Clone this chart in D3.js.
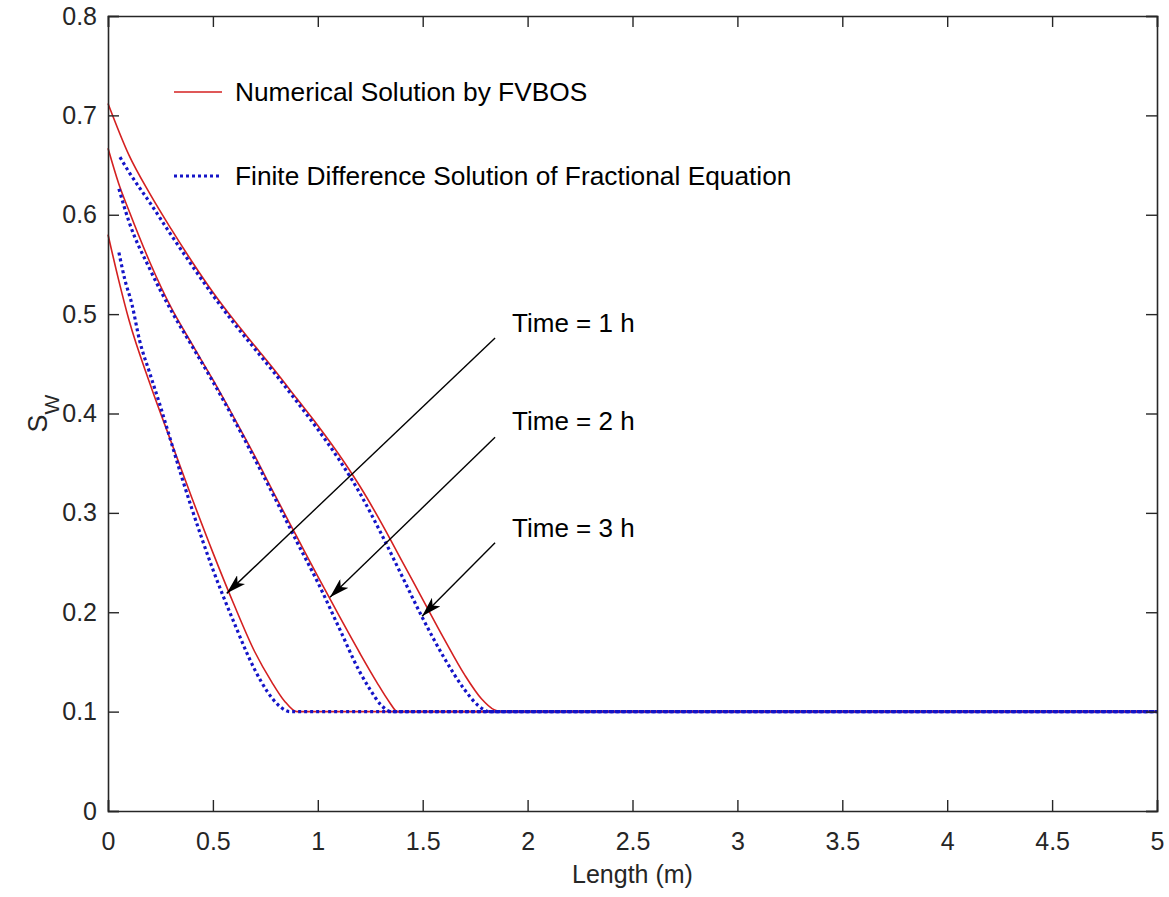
<!DOCTYPE html>
<html>
<head>
<meta charset="utf-8">
<script src="https://cdn.jsdelivr.net/npm/d3@7"></script>
<style>
  html, body { margin: 0; padding: 0; background: #fff; }
  svg text { font-family: "Liberation Sans", Arial, sans-serif; fill: #262626; }
</style>
</head>
<body>
<div id="chart"></div>
<script>
  // ── Data ──
  var X_TICKS = [0, 0.5, 1, 1.5, 2, 2.5, 3, 3.5, 4, 4.5, 5];
  var Y_TICKS = [0, 0.1, 0.2, 0.3, 0.4, 0.5, 0.6, 0.7, 0.8];

  // Numerical solution by FVBOS (red, solid)
  var fvbos1X = [0, 0.05, 0.1, 0.2, 0.3, 0.4, 0.5, 0.6, 0.7, 0.78, 0.84, 0.9, 5];
  var fvbos1Y = [0.58, 0.535, 0.494, 0.43, 0.372, 0.315, 0.26, 0.208, 0.16, 0.13, 0.111, 0.1, 0.1];
  var fvbos2X = [0, 0.05, 0.1, 0.2, 0.3, 0.4, 0.5, 0.6, 0.7, 0.8, 0.9, 1.0, 1.1, 1.2, 1.28, 1.34, 1.38, 5];
  var fvbos2Y = [0.667, 0.632, 0.604, 0.552, 0.507, 0.47, 0.434, 0.396, 0.357, 0.316, 0.276, 0.236, 0.197, 0.159, 0.13, 0.11, 0.1, 0.1];
  var fvbos3X = [0, 0.1, 0.2, 0.3, 0.4, 0.5, 0.6, 0.7, 0.8, 0.9, 1.0, 1.1, 1.2, 1.3, 1.4, 1.5, 1.6, 1.7, 1.78, 1.84, 1.88, 5];
  var fvbos3Y = [0.712, 0.66, 0.621, 0.586, 0.553, 0.522, 0.494, 0.468, 0.442, 0.415, 0.388, 0.359, 0.327, 0.291, 0.252, 0.213, 0.174, 0.137, 0.113, 0.102, 0.1, 0.1];

  // Finite difference solution of fractional equation (blue, dotted)
  var fd1X = [0.052, 0.08, 0.114, 0.15, 0.2, 0.25, 0.3, 0.35, 0.4, 0.5, 0.6, 0.7, 0.76, 0.82, 0.867, 5];
  var fd1Y = [0.562, 0.535, 0.51, 0.474, 0.44, 0.407, 0.372, 0.337, 0.304, 0.243, 0.19, 0.142, 0.12, 0.105, 0.1, 0.1];
  var fd2X = [0.052, 0.1, 0.2, 0.3, 0.4, 0.5, 0.6, 0.7, 0.8, 0.9, 1.0, 1.1, 1.2, 1.25, 1.3, 1.35, 5];
  var fd2Y = [0.626, 0.593, 0.545, 0.504, 0.468, 0.432, 0.394, 0.354, 0.313, 0.271, 0.23, 0.185, 0.14, 0.122, 0.107, 0.1, 0.1];
  var fd3X = [0.057, 0.1, 0.2, 0.3, 0.4, 0.5, 0.6, 0.7, 0.8, 0.9, 1.0, 1.1, 1.2, 1.3, 1.4, 1.5, 1.6, 1.7, 1.76, 1.82, 5];
  var fd3Y = [0.658, 0.643, 0.612, 0.58, 0.549, 0.519, 0.491, 0.465, 0.439, 0.412, 0.384, 0.354, 0.32, 0.28, 0.237, 0.194, 0.155, 0.122, 0.107, 0.1, 0.1];

  var timeLabels = ['Time = 1 h', 'Time = 2 h', 'Time = 3 h'];
  var labelPos = [[1.926, 0.482], [1.926, 0.383], [1.926, 0.276]];
  var arrowFrom = [[1.845, 0.476], [1.845, 0.376], [1.845, 0.270]];
  var arrowTo = [[0.566, 0.219], [1.058, 0.215], [1.497, 0.196]];

  // ── Layout ──
  var W = 1169, H = 897;
  var MARGIN = { top: 16, right: 12, bottom: 86, left: 108 };
  var plotW = W - MARGIN.left - MARGIN.right;
  var plotH = H - MARGIN.top - MARGIN.bottom;
  var RED = '#d42020';
  var BLUE = '#1414c8';
  var AXIS = '#262626';
  var FONT = 25;

  var svg = d3.select('#chart').append('svg')
    .attr('width', W).attr('height', H);

  var g = svg.append('g')
    .attr('transform', 'translate(' + MARGIN.left + ',' + MARGIN.top + ')');

  var x = d3.scaleLinear().domain([0, 5]).range([0, plotW]);
  var y = d3.scaleLinear().domain([0, 0.8]).range([plotH, 0]);

  function zip(xs, ys) {
    return xs.map(function (v, i) { return [v, ys[i]]; });
  }

  var line = d3.line()
    .x(function (d) { return x(d[0]); })
    .y(function (d) { return y(d[1]); })
    .curve(d3.curveMonotoneX);

  // ── Curves ──
  [zip(fvbos1X, fvbos1Y), zip(fvbos2X, fvbos2Y), zip(fvbos3X, fvbos3Y)].forEach(function (pts) {
    g.append('path').attr('d', line(pts))
      .attr('fill', 'none').attr('stroke', RED).attr('stroke-width', 1.6);
  });
  [zip(fd1X, fd1Y), zip(fd2X, fd2Y), zip(fd3X, fd3Y)].forEach(function (pts) {
    g.append('path').attr('d', line(pts))
      .attr('fill', 'none').attr('stroke', BLUE).attr('stroke-width', 3.2)
      .attr('stroke-dasharray', '3,3');
  });

  // ── Arrows ──
  var defs = svg.append('defs');
  defs.append('marker')
    .attr('id', 'arrow')
    .attr('viewBox', '0 0 20 12')
    .attr('refX', 20).attr('refY', 6)
    .attr('markerWidth', 20).attr('markerHeight', 12)
    .attr('markerUnits', 'userSpaceOnUse')
    .attr('orient', 'auto')
    .append('path')
    .attr('d', 'M0,0 L20,6 L0,12 L5,6 Z')
    .attr('fill', '#000');

  arrowFrom.forEach(function (p, i) {
    g.append('line')
      .attr('x1', x(p[0])).attr('y1', y(p[1]))
      .attr('x2', x(arrowTo[i][0])).attr('y2', y(arrowTo[i][1]))
      .attr('stroke', '#000').attr('stroke-width', 1.4)
      .attr('marker-end', 'url(#arrow)');
  });

  timeLabels.forEach(function (t, i) {
    g.append('text')
      .attr('x', x(labelPos[i][0])).attr('y', y(labelPos[i][1]))
      .attr('font-size', 26)
      .style('fill', '#000')
      .text(t);
  });

  // ── Legend ──
  var legend = [
    { label: 'Numerical Solution by FVBOS', color: RED, width: 1.6, dash: null, y: 92 },
    { label: 'Finite Difference Solution of Fractional Equation', color: BLUE, width: 3.2, dash: '3,3', y: 176 }
  ];
  legend.forEach(function (d) {
    svg.append('line')
      .attr('x1', 174).attr('x2', 222).attr('y1', d.y).attr('y2', d.y)
      .attr('stroke', d.color).attr('stroke-width', d.width)
      .attr('stroke-dasharray', d.dash);
    svg.append('text')
      .attr('x', 235).attr('y', d.y).attr('dy', '0.35em')
      .attr('font-size', 26.3)
      .style('fill', '#000')
      .text(d.label);
  });

  // ── Axes (box with inward ticks on all sides) ──
  var TICK = 11;
  var xb = g.append('g').attr('transform', 'translate(0,' + plotH + ')')
    .call(d3.axisBottom(x).tickValues(X_TICKS).tickSize(-TICK).tickPadding(TICK + 10).tickFormat(d3.format('~g')));
  var yl = g.append('g')
    .call(d3.axisLeft(y).tickValues(Y_TICKS).tickSize(-TICK).tickPadding(11).tickFormat(d3.format('~g')));
  var xt = g.append('g')
    .call(d3.axisTop(x).tickValues(X_TICKS).tickSize(-TICK).tickFormat(''));
  var yr = g.append('g').attr('transform', 'translate(' + plotW + ',0)')
    .call(d3.axisRight(y).tickValues(Y_TICKS).tickSize(-TICK).tickFormat(''));

  [xb, yl, xt, yr].forEach(function (a) {
    a.select('.domain').attr('stroke', AXIS).attr('stroke-width', 1.6);
    a.selectAll('.tick line').attr('stroke', AXIS).attr('stroke-width', 1.4);
    a.selectAll('.tick text')
      .attr('font-size', FONT)
      .attr('font-family', '"Liberation Sans", Arial, sans-serif')
      .attr('fill', AXIS);
  });

  // Axis titles
  g.append('text')
    .attr('x', plotW / 2).attr('y', plotH + 72)
    .attr('text-anchor', 'middle')
    .attr('font-size', FONT)
    .text('Length (m)');

  var yTitle = g.append('text')
    .attr('transform', 'translate(' + (-61) + ',' + (plotH / 2) + ') rotate(-90)')
    .attr('text-anchor', 'middle')
    .attr('font-size', 27);
  yTitle.append('tspan').text('S');
  yTitle.append('tspan').attr('baseline-shift', 'sub').attr('font-size', 21).text('W');
</script>
</body>
</html>
